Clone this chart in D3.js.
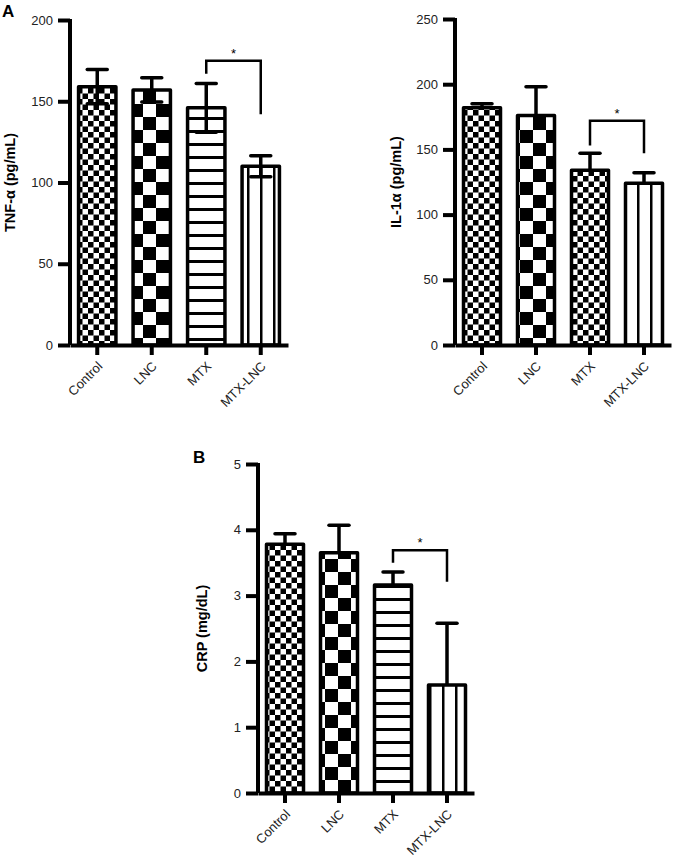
<!DOCTYPE html>
<html>
<head>
<meta charset="utf-8">
<script src="https://cdn.jsdelivr.net/npm/d3@7"></script>
<style>
  body { margin: 0; background: #fff; }
  svg { font-family: "Liberation Sans", Arial, sans-serif; }
</style>
</head>
<body>
<div id="vis"></div>
<script>
// groups on the x axis
var categories = ["Control", "LNC", "MTX", "MTX-LNC"];

// TNF-alpha (pg/mL)
var tnfMean = [159, 157, 146, 110];
var tnfErr = [10.5, 7.5, 15, 6.5];
var tnfTicks = [0, 50, 100, 150, 200];
var tnfBracket = [175, 167, 142]; // top, left leg end, right leg end

// IL-1alpha (pg/mL)
var ilMean = [182, 176, 134, 124];
var ilErr = [3, 22, 13, 8];
var ilTicks = [0, 50, 100, 150, 200, 250];
var ilBracket = [172, 153, 147];

// CRP (mg/dL)
var crpMean = [3.78, 3.65, 3.16, 1.64];
var crpErr = [0.16, 0.42, 0.2, 0.94];
var crpTicks = [0, 1, 2, 3, 4, 5];
var crpBracket = [3.69, 3.5, 3.21];

const WIDTH = 673;
const HEIGHT = 857;
const STROKE = 3.5;

var svg = d3.select("#vis").append("svg")
    .attr("width", WIDTH)
    .attr("height", HEIGHT);

// fill patterns
var defs = svg.append("defs");

function checker(id, cell) {
    var p = defs.append("pattern")
        .attr("id", id)
        .attr("patternUnits", "userSpaceOnUse")
        .attr("width", cell * 2)
        .attr("height", cell * 2);
    p.append("rect").attr("width", cell * 2).attr("height", cell * 2).attr("fill", "#fff");
    p.append("rect").attr("width", cell).attr("height", cell).attr("fill", "#000");
    p.append("rect").attr("x", cell).attr("y", cell).attr("width", cell).attr("height", cell).attr("fill", "#000");
}
checker("smallCheck", 5.5);
checker("bigCheck", 13);

var hp = defs.append("pattern")
    .attr("id", "hLines")
    .attr("patternUnits", "userSpaceOnUse")
    .attr("width", 10).attr("height", 13);
hp.append("rect").attr("width", 10).attr("height", 13).attr("fill", "#fff");
hp.append("rect").attr("y", 0).attr("width", 10).attr("height", 3).attr("fill", "#000");

var vp = defs.append("pattern")
    .attr("id", "vLines")
    .attr("patternUnits", "userSpaceOnUse")
    .attr("width", 13).attr("height", 10);
vp.append("rect").attr("width", 13).attr("height", 10).attr("fill", "#fff");
vp.append("rect").attr("x", 0).attr("width", 2.5).attr("height", 10).attr("fill", "#000");

function renderPanel(opt) {
    var g = svg.append("g");

    var x = d3.scaleBand()
        .domain(categories)
        .range([opt.left, opt.right])
        .paddingInner(0.25)
        .paddingOuter(0.125);

    var y = d3.scaleLinear()
        .domain([0, opt.ticks[opt.ticks.length - 1]])
        .range([opt.bottom, opt.top]);

    // bars
    g.selectAll("rect.bar")
        .data(opt.mean)
        .enter()
        .append("rect")
        .classed("bar", true)
        .attr("x", function (d, i) { return x(categories[i]) + STROKE / 2; })
        .attr("y", function (d) { return y(d); })
        .attr("width", x.bandwidth() - STROKE)
        .attr("height", function (d) { return y(0) - y(d); })
        .attr("fill", function (d, i) { return "url(#" + opt.patterns[i] + ")"; })
        .attr("stroke", "#000")
        .attr("stroke-width", STROKE)
        .attr("stroke-linejoin", "round");

    // error bars (lower half only where the figure shows it)
    var lowSign = opt.both ? -1 : 0;
    var err = g.selectAll("g.err")
        .data(opt.mean)
        .enter()
        .append("g")
        .classed("err", true)
        .attr("stroke", "#000")
        .attr("stroke-width", 3.5);
    err.append("line")
        .attr("x1", function (d, i) { return x(categories[i]) + x.bandwidth() / 2; })
        .attr("x2", function (d, i) { return x(categories[i]) + x.bandwidth() / 2; })
        .attr("y1", function (d, i) { return y(d + lowSign * opt.err[i]); })
        .attr("y2", function (d, i) { return y(d + opt.err[i]); });
    var caps = opt.both ? [1, -1] : [1];
    caps.forEach(function (s) {
        err.append("line")
            .attr("x1", function (d, i) { return x(categories[i]) + x.bandwidth() / 2 - 10; })
            .attr("x2", function (d, i) { return x(categories[i]) + x.bandwidth() / 2 + 10; })
            .attr("y1", function (d, i) { return y(d + s * opt.err[i]); })
            .attr("y2", function (d, i) { return y(d + s * opt.err[i]); })
            .attr("stroke-linecap", "round");
    });

    // y axis
    var yAxis = g.append("g")
        .attr("transform", "translate(" + opt.left + ",0)")
        .call(d3.axisLeft(y).tickValues(opt.ticks).tickFormat(d3.format("~g"))
            .tickSize(12).tickSizeOuter(0).tickPadding(5));
    yAxis.select(".domain").attr("stroke-width", 4).attr("d", "M0," + y(0) + "V" + (y(opt.ticks[opt.ticks.length - 1]) - 1));
    yAxis.selectAll(".tick line").attr("stroke-width", 4);
    yAxis.selectAll(".tick text").attr("font-size", 13).attr("fill", "#222")
        .attr("font-family", "Liberation Sans, Arial, sans-serif");

    // x axis
    var xAxis = g.append("g")
        .attr("transform", "translate(0," + opt.bottom + ")")
        .call(d3.axisBottom(x).tickSize(10).tickSizeOuter(0));
    xAxis.select(".domain").attr("stroke-width", 4);
    xAxis.selectAll(".tick line").attr("stroke-width", 4);
    xAxis.selectAll(".tick text")
        .attr("font-size", 13)
        .attr("fill", "#222")
        .attr("font-family", "Liberation Sans, Arial, sans-serif")
        .attr("text-anchor", "end")
        .attr("dy", null)
        .attr("y", null)
        .attr("transform", "translate(6,22) rotate(-45)");

    // significance bracket
    var bx1 = x("MTX") + x.bandwidth() / 2;
    var bx2 = x("MTX-LNC") + x.bandwidth() / 2;
    g.append("path")
        .attr("d", "M" + bx1 + "," + y(opt.bracket[1]) +
            "V" + y(opt.bracket[0]) + "H" + bx2 + "V" + y(opt.bracket[2]))
        .attr("fill", "none")
        .attr("stroke", "#000")
        .attr("stroke-width", 2.5);
    g.append("text")
        .attr("x", (bx1 + bx2) / 2)
        .attr("y", y(opt.bracket[0]) - 3)
        .attr("text-anchor", "middle")
        .attr("font-size", 13)
        .text("*");

    // y label
    g.append("text")
        .attr("transform", "translate(" + opt.labelX + "," + (opt.top + opt.bottom) / 2 + ") rotate(-90)")
        .attr("text-anchor", "middle")
        .attr("font-size", 14.5)
        .attr("font-weight", "bold")
        .text(opt.label);
}

renderPanel({
    left: 70, right: 288, top: 20, bottom: 345,
    ticks: tnfTicks, mean: tnfMean, err: tnfErr, bracket: tnfBracket, both: true,
    patterns: ["smallCheck", "bigCheck", "hLines", "vLines"],
    label: "TNF-α (pg/mL)", labelX: 15
});

renderPanel({
    left: 455, right: 671, top: 19, bottom: 345,
    ticks: ilTicks, mean: ilMean, err: ilErr, bracket: ilBracket, both: false,
    patterns: ["smallCheck", "bigCheck", "smallCheck", "vLines"],
    label: "IL-1α (pg/mL)", labelX: 401
});

renderPanel({
    left: 258, right: 474, top: 464, bottom: 793,
    ticks: crpTicks, mean: crpMean, err: crpErr, bracket: crpBracket, both: false,
    patterns: ["smallCheck", "bigCheck", "hLines", "vLines"],
    label: "CRP (mg/dL)", labelX: 207
});

// panel letters
svg.append("text").attr("x", 2).attr("y", 17)
    .attr("font-size", 17).attr("font-weight", "bold").text("A");
svg.append("text").attr("x", 193).attr("y", 463)
    .attr("font-size", 17).attr("font-weight", "bold").text("B");
</script>
</body>
</html>
